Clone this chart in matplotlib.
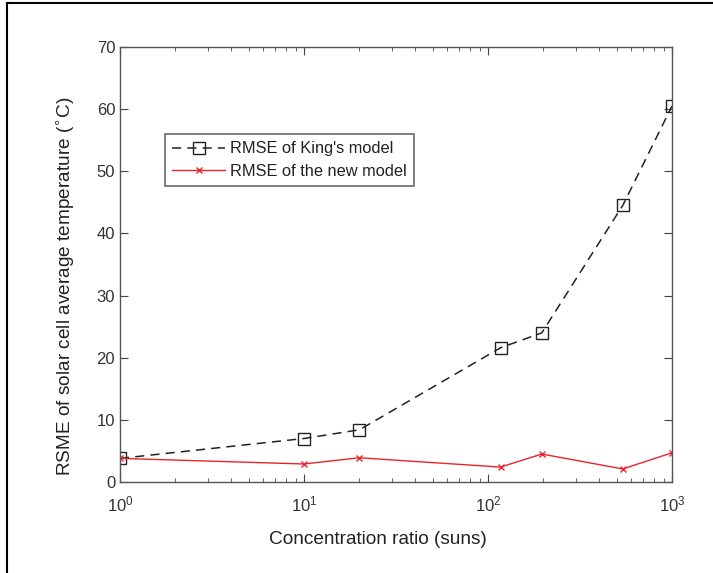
import matplotlib
matplotlib.use("Agg")
import matplotlib.pyplot as plt
from matplotlib.lines import Line2D
import numpy as np

plt.rcParams['font.family'] = ['Liberation Sans', 'DejaVu Sans']

conc = [1, 10, 20, 117, 196, 540, 1000]
king = [3.8, 7.0, 8.4, 21.6, 24.0, 44.5, 60.5]
new_model = [3.8, 2.9, 3.9, 2.4, 4.5, 2.1, 4.7]

fig = plt.figure(figsize=(7.13, 5.73), dpi=100)
ax = fig.add_axes([120/713, 1-482/573, 552/713, 435/573])

ax.plot(conc, king, color='#222222', linestyle=(0, (6, 4)), linewidth=1.1,
        marker='s', markersize=8, markerfacecolor='none', markeredgecolor='#222222',
        markeredgewidth=1.0, label="RMSE of King's model")
ax.plot(conc, new_model, color='#e8242c', linestyle='-', linewidth=1.0,
        marker='x', markersize=5, markeredgewidth=1.0,
        label='RMSE of the new model')

ax.set_xscale('log')
ax.set_xlim(1, 1000)
ax.set_ylim(0, 70)
ax.set_yticks(np.arange(0, 71, 10))
ax.set_xticks([1, 10, 100, 1000])

tc = '#333333'
ax.tick_params(axis='both', which='both', direction='in', top=True, right=True,
               colors='#444444', labelcolor=tc, labelsize=12)
ax.tick_params(which='major', length=6)
ax.tick_params(which='minor', length=3)
ax.tick_params(axis='x', pad=9)
for s in ax.spines.values():
    s.set_color('#555555')
    s.set_linewidth(1.0)

ax.set_xlabel('Concentration ratio (suns)', fontsize=13.7, color='#222222')
ax.set_ylabel('RSME of solar cell average temperature ($^{\\circ}$C)', fontsize=13.7,
              color='#222222')
ax.xaxis.set_label_coords(0.467, -0.112)
ax.yaxis.set_label_coords(-0.080, 0.45)

leg = ax.legend(loc='upper left', bbox_to_anchor=(0.0815, 0.80), borderaxespad=0,
                fontsize=11.8, frameon=True, fancybox=False, edgecolor='#444444',
                handlelength=3.2, borderpad=0.45, labelspacing=0.45, handletextpad=0.3)
leg.get_frame().set_linewidth(1.2)
for t in leg.get_texts():
    t.set_color('#222222')

fig.add_artist(Line2D([7/713, 1.0], [1-3/573, 1-3/573], color='black', linewidth=1.5))
fig.add_artist(Line2D([7/713, 7/713], [0, 1-3/573], color='black', linewidth=1.5))

fig.savefig('out.png', dpi=100)
